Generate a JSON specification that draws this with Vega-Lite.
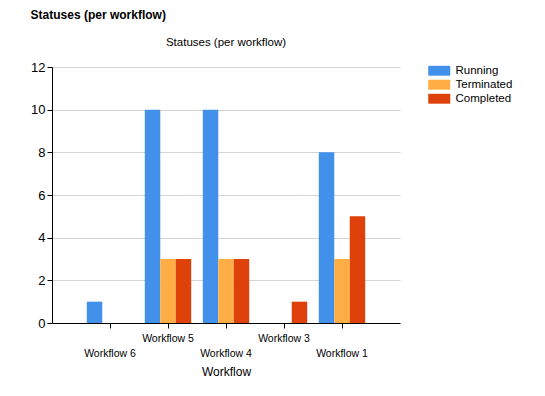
{
  "$schema": "https://vega.github.io/schema/vega-lite/v6.json",
  "background": "white",
  "padding": {"left": 30, "top": 8, "right": 5, "bottom": 5},
  "title": {"text": "Statuses (per workflow)", "anchor": "start", "fontSize": 12, "fontWeight": "bold", "font": "Liberation Sans", "color": "#000000", "offset": 15},
  "config": {
    "font": "Liberation Sans",
    "view": {"stroke": null}
  },
  "vconcat": [
    {
      "width": 348,
      "height": 256,
      "title": {"text": "Statuses (per workflow)", "anchor": "middle", "fontSize": 11.5, "fontWeight": "normal", "color": "#000000", "offset": 13},
      "data": {
        "values": [
          {"workflow": "Workflow 6", "status": "Running", "count": 1},
          {"workflow": "Workflow 6", "status": "Terminated", "count": 0},
          {"workflow": "Workflow 6", "status": "Completed", "count": 0},
          {"workflow": "Workflow 5", "status": "Running", "count": 10},
          {"workflow": "Workflow 5", "status": "Terminated", "count": 3},
          {"workflow": "Workflow 5", "status": "Completed", "count": 3},
          {"workflow": "Workflow 4", "status": "Running", "count": 10},
          {"workflow": "Workflow 4", "status": "Terminated", "count": 3},
          {"workflow": "Workflow 4", "status": "Completed", "count": 3},
          {"workflow": "Workflow 3", "status": "Running", "count": 0},
          {"workflow": "Workflow 3", "status": "Terminated", "count": 0},
          {"workflow": "Workflow 3", "status": "Completed", "count": 1},
          {"workflow": "Workflow 1", "status": "Running", "count": 8},
          {"workflow": "Workflow 1", "status": "Terminated", "count": 3},
          {"workflow": "Workflow 1", "status": "Completed", "count": 5}
        ]
      },
      "mark": {"type": "bar"},
      "encoding": {
        "x": {
          "field": "workflow",
          "type": "nominal",
          "sort": ["Workflow 6", "Workflow 5", "Workflow 4", "Workflow 3", "Workflow 1"],
          "scale": {"paddingInner": 0.2, "paddingOuter": 0.6},
          "axis": {
            "title": "Workflow",
            "titleFontSize": 12,
            "titleFontWeight": "normal",
            "titleColor": "#000000",
            "titlePadding": 8,
            "labelAngle": 0,
            "labelFontSize": 10.5,
            "labelColor": "#000000",
            "labelPadding": {"condition": {"test": "indexof(['Workflow 6','Workflow 4','Workflow 1'], datum.value) >= 0", "value": 20}, "value": 5},
            "tickSize": 5,
            "tickColor": "#000000",
            "domainColor": "#000000",
            "grid": false
          }
        },
        "xOffset": {
          "field": "status",
          "type": "nominal",
          "sort": ["Running", "Terminated", "Completed"],
          "scale": {"paddingInner": 0, "paddingOuter": 0}
        },
        "y": {
          "field": "count",
          "type": "quantitative",
          "scale": {"domain": [0, 12]},
          "axis": {
            "title": null,
            "values": [0, 2, 4, 6, 8, 10, 12],
            "labelFontSize": 13,
            "labelColor": "#000000",
            "labelPadding": 2,
            "tickSize": 5,
            "tickColor": "#000000",
            "domainColor": "#000000",
            "gridColor": "#d4d4d4"
          }
        },
        "color": {
          "field": "status",
          "type": "nominal",
          "sort": ["Running", "Terminated", "Completed"],
          "scale": {"domain": ["Running", "Terminated", "Completed"], "range": ["#4190EA", "#FFAE46", "#DE420A"]},
          "legend": {
            "title": null,
            "orient": "none",
            "legendX": 381.5,
            "legendY": -2,
            "symbolType": "M-2,-0.9H2V0.9H-2Z",
            "symbolSize": 121,
            "symbolStrokeWidth": 0,
            "labelFontSize": 11.5,
            "labelColor": "#000000",
            "labelOffset": 10.5,
            "rowPadding": 1
          }
        }
      }
    }
  ]
}
